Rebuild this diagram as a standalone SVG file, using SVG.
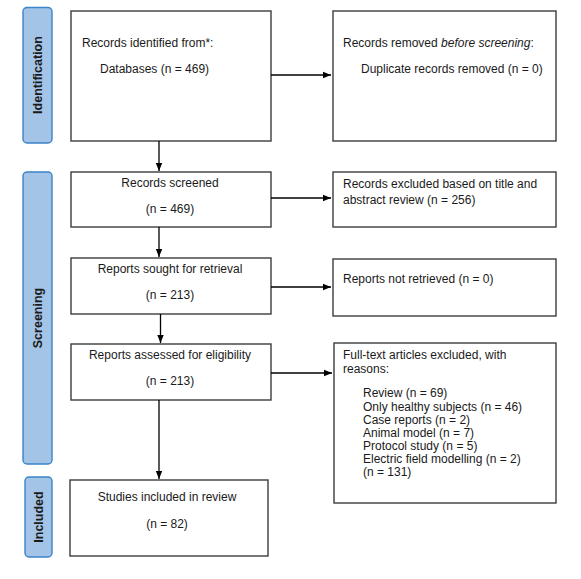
<svg xmlns="http://www.w3.org/2000/svg" width="581" height="579" viewBox="0 0 581 579">
<defs>
<marker id="ah" viewBox="0 0 8 8" refX="8" refY="4" markerWidth="8" markerHeight="8" markerUnits="userSpaceOnUse" orient="auto">
<path d="M0,0.8 L8,4 L0,7.2 Z" fill="#000"/>
</marker>
<style>
.box{fill:#fff;stroke:#3c3c3c;stroke-width:1.4}
.bar{fill:#a3c4e6;stroke:#3a84c8;stroke-width:1.4}
.t{font-family:"Liberation Sans",Arial,sans-serif;font-size:12px;fill:#1a1a1a}
.c{text-anchor:middle}
.lbl{font-family:"Liberation Sans",Arial,sans-serif;font-size:12.5px;font-weight:bold;fill:#1a1a1a;text-anchor:middle}
.ln{stroke:#000;stroke-width:1.3;fill:none;marker-end:url(#ah)}
</style>
</defs>
<rect width="581" height="579" fill="#fff"/>
<g id="bar-identification">
<rect class="bar" x="23" y="7.5" width="29" height="135.5" rx="4"/>
<text class="lbl" transform="translate(41.5,75) rotate(-90)">Identification</text>
</g>
<g id="bar-screening">
<rect class="bar" x="23" y="172" width="29" height="292" rx="4"/>
<text class="lbl" transform="translate(41.5,318) rotate(-90)">Screening</text>
</g>
<g id="bar-included">
<rect class="bar" x="25" y="477" width="27" height="80" rx="4"/>
<text class="lbl" transform="translate(42.5,517) rotate(-90)">Included</text>
</g>
<g id="records-identified">
<rect class="box" x="71" y="11" width="200" height="130"/>
<text class="t" x="82" y="47">Records identified from*:</text>
<text class="t" x="100" y="73">Databases (n = 469)</text>
</g>
<g id="records-removed">
<rect class="box" x="333" y="11" width="223" height="130"/>
<text class="t" x="343" y="47">Records removed <tspan font-style="italic">before screening</tspan>:</text>
<text class="t" x="361" y="73">Duplicate records removed (n = 0)</text>
</g>
<g id="records-screened">
<rect class="box" x="71" y="172" width="200" height="55"/>
<text class="t c" x="170" y="187">Records screened</text>
<text class="t c" x="170" y="213">(n = 469)</text>
</g>
<g id="records-excluded">
<rect class="box" x="333" y="172" width="223" height="55"/>
<text class="t" x="343" y="188">Records excluded based on title and</text>
<text class="t" x="343" y="204">abstract review (n = 256)</text>
</g>
<g id="reports-sought">
<rect class="box" x="71" y="258" width="200" height="56"/>
<text class="t c" x="170" y="273">Reports sought for retrieval</text>
<text class="t c" x="170" y="299">(n = 213)</text>
</g>
<g id="reports-not-retrieved">
<rect class="box" x="333" y="259" width="223" height="57"/>
<text class="t" x="343" y="283">Reports not retrieved (n = 0)</text>
</g>
<g id="reports-assessed">
<rect class="box" x="71" y="344" width="200" height="56"/>
<text class="t c" x="170" y="359">Reports assessed for eligibility</text>
<text class="t c" x="170" y="385">(n = 213)</text>
</g>
<g id="fulltext-excluded">
<rect class="box" x="334" y="343" width="222" height="160"/>
<text class="t" x="343" y="359">Full-text articles excluded, with</text>
<text class="t" x="343" y="373">reasons:</text>
<text class="t" x="363" y="397">Review (n = 69)</text>
<text class="t" x="363" y="411">Only healthy subjects (n = 46)</text>
<text class="t" x="363" y="424">Case reports (n = 2)</text>
<text class="t" x="363" y="437">Animal model (n = 7)</text>
<text class="t" x="363" y="450">Protocol study (n = 5)</text>
<text class="t" x="363" y="463">Electric field modelling (n = 2)</text>
<text class="t" x="363" y="476">(n = 131)</text>
</g>
<g id="studies-included">
<rect class="box" x="70" y="480" width="198" height="76"/>
<text class="t c" x="167" y="501">Studies included in review</text>
<text class="t c" x="167" y="528">(n = 82)</text>
</g>
<g id="connectors">
<line class="ln" x1="271" y1="75" x2="331" y2="75"/>
<line class="ln" x1="159" y1="141" x2="159" y2="171"/>
<line class="ln" x1="271" y1="198" x2="331" y2="198"/>
<line class="ln" x1="159" y1="227" x2="159" y2="257"/>
<line class="ln" x1="271" y1="287" x2="331" y2="287"/>
<line class="ln" x1="160.5" y1="314" x2="160.5" y2="343"/>
<line class="ln" x1="271" y1="373" x2="332" y2="373"/>
<line class="ln" x1="159" y1="400" x2="159" y2="479"/>
</g>
</svg>
